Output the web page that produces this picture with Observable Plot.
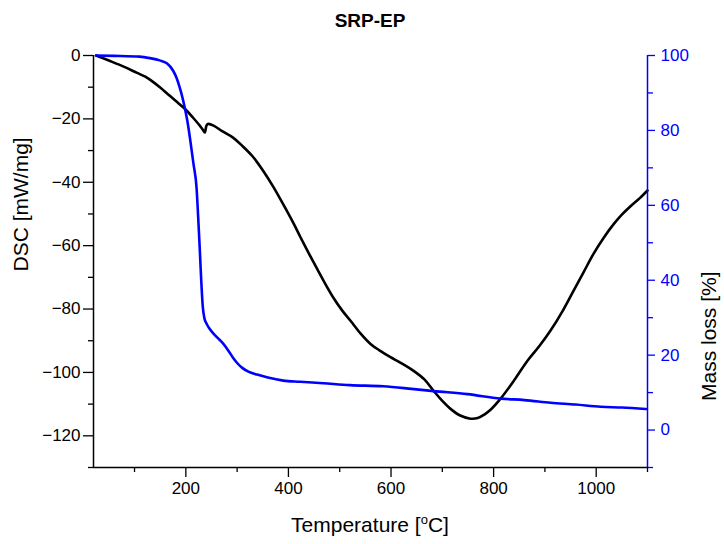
<!DOCTYPE html>
<html><head><meta charset="utf-8">
<script src="https://cdn.jsdelivr.net/npm/d3@7"></script>
<script src="https://cdn.jsdelivr.net/npm/@observablehq/plot@0.6"></script>
<style>
body{margin:0;background:#fff;}
#wrap{position:relative;width:724px;height:544px;font-family:"Liberation Sans",Arial,sans-serif;}
#wrap svg{position:absolute;left:0;top:0;}
#title{position:absolute;top:11px;left:0;width:740px;text-align:center;font-weight:bold;font-size:19px;line-height:20px;}
#xlabel{position:absolute;top:514px;left:0;width:740px;text-align:center;font-size:21px;line-height:21px;}
#xlabel sup{font-size:13px;vertical-align:8px;line-height:0;}
</style></head><body>
<div id="wrap"><div id="title">SRP-EP</div><div id="xlabel">Temperature [<sup>o</sup>C]</div></div>
<script>
const dscTemp = [25, 50, 80, 105, 120, 130, 150, 165, 180, 198, 215, 227, 233, 237, 240, 243, 255, 270, 292, 310, 330, 350, 370, 390, 410, 423, 440, 456, 470, 488, 505, 521, 540, 560, 579, 599, 618, 644, 665, 683, 700, 716, 735, 755, 769, 782, 794, 814, 840, 866, 890, 911, 935, 956, 975, 995, 1015, 1034, 1050, 1068, 1085, 1100];
const dscValue = [0, -1.6, -3.6, -5.5, -6.6, -7.6, -10.1, -12.2, -14.3, -16.8, -19.8, -22.1, -23.4, -24.3, -22.2, -21.6, -22.2, -23.8, -25.9, -28.5, -31.8, -36.2, -41.3, -47, -53, -57.2, -62.5, -67.3, -71.5, -76.5, -80.5, -83.7, -87.6, -91, -93.2, -95.2, -96.9, -99.5, -102.2, -105.8, -109, -111.5, -113.6, -114.6, -114.4, -113.3, -111.8, -108.2, -102.5, -96.3, -91.5, -86.8, -80.5, -74.2, -68.5, -62.5, -57.4, -53.2, -50.2, -47.4, -45, -42.6];
const massTemp = [25, 60, 110, 130, 149, 163, 175, 182, 188, 193, 198, 203, 208, 215, 221, 224, 227, 230, 233, 236, 240, 245, 253, 262, 272, 282, 292, 300, 310, 322, 339, 360, 390, 423, 468, 520, 585, 640, 683, 749, 814, 860, 911, 960, 1009, 1050, 1097];
const massValue = [100, 99.9, 99.7, 99.3, 98.7, 97.9, 96, 94, 91.5, 89, 86, 82.5, 78, 71, 64.5, 57, 48.8, 40, 33, 30, 28.5, 27.3, 25.9, 24.6, 23.2, 21.4, 19.3, 17.9, 16.6, 15.6, 14.8, 14, 13.2, 12.9, 12.5, 12, 11.7, 11, 10.4, 9.6, 8.4, 8.0, 7.3, 6.8, 6.2, 6.0, 5.6];
const xTicks = [200, 400, 600, 800, 1000];
const xMinor = [100, 300, 500, 700, 900, 1100];
const dscTicks = [-120, -100, -80, -60, -40, -20, 0];
const dscMinor = [-130, -110, -90, -70, -50, -30, -10];
const massTicks = [0, 20, 40, 60, 80, 100];
const massMinor = [-10, 10, 30, 50, 70, 90];

const dsc = dscTemp.map((t, i) => ({t, v: dscValue[i]}));
const mass = massTemp.map((t, i) => ({t, v: massValue[i]}));
const fmt = d => d < 0 ? "\u2212" + (-d) : String(d);

const common = {
  width: 724, height: 544,
  marginLeft: 93, marginRight: 77, marginTop: 55, marginBottom: 77,
  style: {background: "transparent", fontFamily: "Liberation Sans, Arial, sans-serif", fontSize: "17px"}
};

const plotA = Plot.plot({
  ...common,
  x: {domain: [20, 1100]},
  y: {domain: [-130, 0]},
  marks: [
    Plot.ruleX([20], {stroke: "black", strokeWidth: 1.5}),
    Plot.ruleY([-130], {stroke: "black", strokeWidth: 1.5}),
    Plot.axisY({ticks: dscTicks, tickSize: 10, tickPadding: 3, fontSize: 17, tickFormat: fmt, label: null, strokeWidth: 1.3}),
    Plot.axisY({ticks: dscMinor, tickSize: 5, tickFormat: () => "", label: null, strokeWidth: 1.3}),
    Plot.axisX({ticks: xTicks, tickSize: 10, tickPadding: 4, fontSize: 17, tickFormat: fmt, label: null, strokeWidth: 1.3}),
    Plot.axisX({ticks: xMinor, tickSize: 5, tickFormat: () => "", label: null, strokeWidth: 1.3}),
    Plot.line(dsc, {x: "t", y: "v", stroke: "black", strokeWidth: 2.6, curve: "catmull-rom"}),
    Plot.text(["DSC [mW/mg]"], {frameAnchor: "left", dx: -72, dy: 10, rotate: -90, fontSize: 21, fill: "black"})
  ]
});

const plotB = Plot.plot({
  ...common,
  x: {domain: [20, 1100], axis: null},
  y: {domain: [-10, 100]},
  marks: [
    Plot.ruleX([1100], {stroke: "blue", strokeWidth: 1.5}),
    Plot.axisY({anchor: "right", ticks: massTicks, tickSize: 7, tickPadding: 6, fontSize: 17, tickFormat: fmt, label: null, stroke: "blue", fill: "blue", strokeWidth: 1.3}),
    Plot.axisY({anchor: "right", ticks: massMinor, tickSize: 5, tickFormat: () => "", label: null, stroke: "blue", strokeWidth: 1.3}),
    Plot.line(mass, {x: "t", y: "v", stroke: "blue", strokeWidth: 2.6, curve: "monotone-x"}),
    Plot.text(["Mass loss [%]"], {frameAnchor: "right", dx: 62, dy: 10, rotate: -90, fontSize: 21, fill: "black"})
  ]
});

const wrap = document.getElementById("wrap");
wrap.appendChild(plotA);
wrap.appendChild(plotB);
</script>
</body></html>
